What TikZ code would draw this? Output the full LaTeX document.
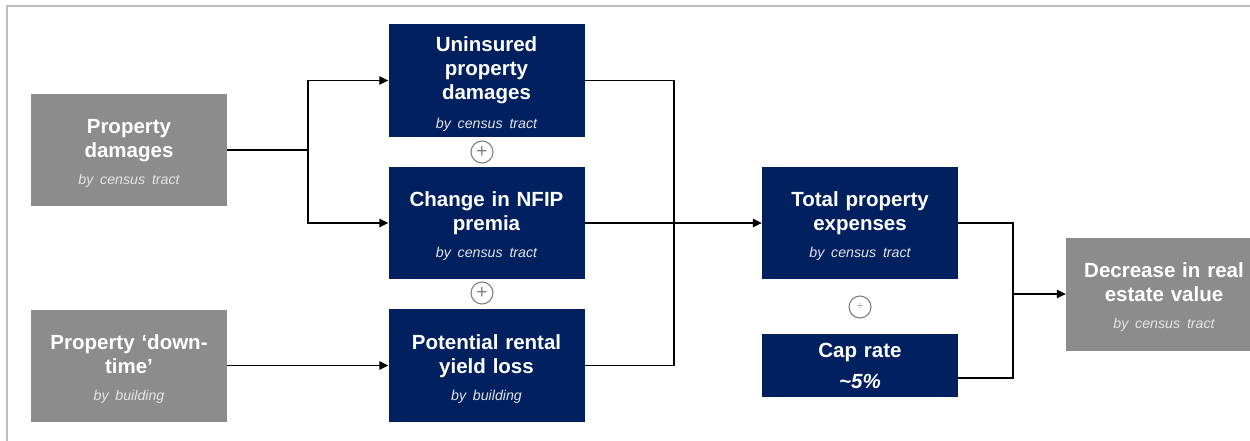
\documentclass[tikz,border=0pt]{standalone}
\usepackage{fontspec}
\setmainfont{Liberation Sans}
\usepackage{xcolor}
\usetikzlibrary{arrows.meta}

\definecolor{navy}{HTML}{002060}
\definecolor{boxgray}{HTML}{8C8C8C}
\definecolor{framegray}{HTML}{BDBDBD}
\definecolor{subgray}{HTML}{E4E4E8}

% italic second line under each box title
\newcommand{\subtxt}[1]{{\normalfont\fontsize{14.2}{17}\selectfont\itshape\color{subgray}#1}}

\tikzset{
  box/.style={minimum width=196pt, minimum height=112pt, text width=190pt,
    align=center, inner sep=0pt, text=white,
    font=\fontsize{20.5}{24}\selectfont\bfseries},
  titled/.style={box, execute at begin node={\rule{0pt}{21pt}}},
  navybox/.style={titled, fill=navy},
  graybox/.style={titled, fill=boxgray},
  opcircle/.style={circle, draw=gray, line width=1.1pt, fill=white,
    minimum size=22pt, inner sep=0pt, text=gray},
  link/.style={line width=1.3pt},
  arrow/.style={link, -{Triangle[length=9pt,width=8.5pt]}}
}

\begin{document}
\begin{tikzpicture}[x=1pt, y=-1pt]
  \useasboundingbox (0,0) rectangle (1250,440);

  % Frame
  \draw[framegray, line width=1.6pt] (7,450) -- (7,6) -- (1260,6);

  % Inputs
  \node[graybox] (damages) at (129,150) {Property\\damages\\[3pt]\subtxt{by census tract}};
  \node[graybox] (downtime) at (129,365.5) {Property `down-\\time'\\[3pt]\subtxt{by building}};

  % Cost components
  \node[navybox, minimum height=113pt] (uninsured) at (486.5,80.5) {Uninsured\\property\\damages\\[5pt]\subtxt{by census tract}};
  \node[navybox] (nfip) at (486.5,223) {Change in NFIP\\premia\\[3pt]\subtxt{by census tract}};
  \node[navybox, minimum height=113pt] (rental) at (486.5,365.5) {Potential rental\\yield loss\\[3pt]\subtxt{by building}};

  \node[opcircle, font=\fontsize{19}{19}\selectfont] (plusA) at (482,152) {+};
  \node[opcircle, font=\fontsize{19}{19}\selectfont] (plusB) at (482,293) {+};

  % Expenses and cap rate
  \node[navybox] (total) at (860,223) {Total property\\expenses\\[3pt]\subtxt{by census tract}};
  \node[box, fill=navy, minimum height=63pt] (caprate) at (860,365.5) {Cap rate\\[7pt]\itshape\textasciitilde5\%};
  \node[opcircle, font=\fontsize{10}{10}\selectfont] (divide) at (860,307) {÷};

  % Result
  \node[graybox, minimum height=113pt] (decrease) at (1164,294) {Decrease in real\\estate value\\[3pt]\subtxt{by census tract}};

  % Connectors
  \coordinate (split) at (308,150);
  \draw[link] (damages) -- (split);
  \draw[arrow] (split) |- (uninsured);
  \draw[arrow] (split) |- (nfip);
  \draw[arrow] (downtime) -- (rental);

  \coordinate (merge) at (674,223);
  \draw[link] (uninsured) -| (merge) |- (rental);
  \draw[arrow] (nfip) -- (total);

  \coordinate (ratio) at (1013,294);
  \draw[link] (total) -| (ratio) |- ([yshift=-12.5pt]caprate.east);
  \draw[arrow] (ratio) -- (decrease);
\end{tikzpicture}
\end{document}
